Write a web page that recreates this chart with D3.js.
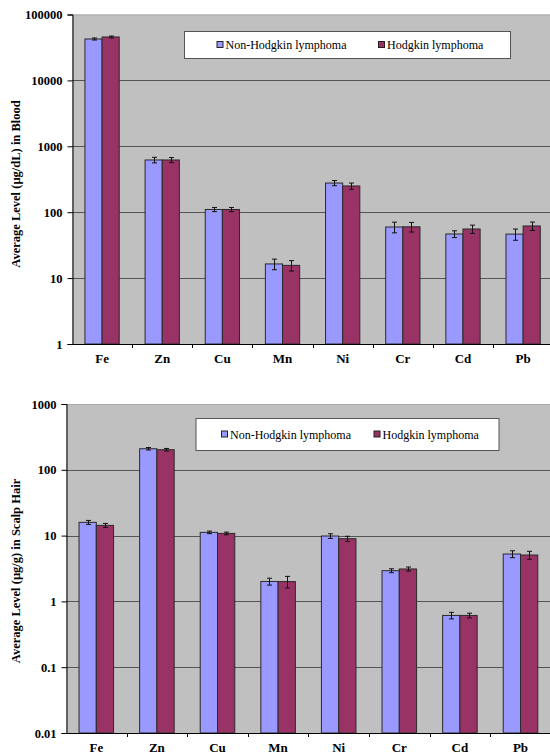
<!DOCTYPE html>
<html>
<head>
<meta charset="utf-8">
<script src="https://cdn.jsdelivr.net/npm/d3@7"></script>
<style>
  html, body { margin: 0; padding: 0; background: #fff; }
  svg { display: block; }
  text { font-family: "Liberation Serif", "Times New Roman", serif; }
</style>
</head>
<body>
<script>
// Trace element levels in lymphoma patients (log scale)
const elements = ["Fe", "Zn", "Cu", "Mn", "Ni", "Cr", "Cd", "Pb"];
const seriesNames = ["Non-Hodgkin lymphoma", "Hodgkin lymphoma"];

// Blood, µg/dL
const bloodNonHodgkin = [42500, 620, 110, 16.4, 277, 59.6, 46.7, 46.5];
const bloodHodgkin    = [45600, 620, 110, 15.6, 250, 60.0, 55.6, 61.8];
const bloodNonHodgkinErr = [1500, 60, 8, 3.0, 25, 11, 5.5, 9];
const bloodHodgkinErr    = [1500, 55, 8, 2.8, 27, 10, 8, 9];
const bloodTicks = [1, 10, 100, 1000, 10000, 100000];
const bloodTickLabels = ["1", "10", "100", "1000", "10000", "100000"];

// Scalp hair, µg/g
const hairNonHodgkin = [15.9, 209, 11.2, 2.01, 9.86, 2.93, 0.612, 5.25];
const hairHodgkin    = [14.3, 202, 10.8, 2.0, 8.97, 3.11, 0.612, 5.07];
const hairNonHodgkinErr = [1.1, 9, 0.5, 0.24, 0.8, 0.2, 0.07, 0.63];
const hairHodgkinErr    = [1.0, 9, 0.5, 0.4, 0.8, 0.22, 0.05, 0.7];
const hairTicks = [0.01, 0.1, 1, 10, 100, 1000];
const hairTickLabels = ["0.01", "0.1", "1", "10", "100", "1000"];

const colors = ["#9999FF", "#993366"];

const svg = d3.select("body").append("svg")
  .attr("width", 550).attr("height", 754);

function drawPanel(o) {
  const g = svg.append("g");
  const y = d3.scaleLog().domain(o.domain).range([o.bottom, o.top]);
  const x0 = d3.scaleBand().domain(elements).range([o.left, o.right])
    .paddingInner(0.43).paddingOuter(0.215);
  const x1 = d3.scaleBand().domain([0, 1]).range([0, x0.bandwidth()]);
  const step = x0.step();

  // plot area
  g.append("rect")
    .attr("x", o.left).attr("y", o.top)
    .attr("width", o.right - o.left).attr("height", o.bottom - o.top)
    .attr("fill", "#C0C0C0");
  g.append("line")
    .attr("x1", o.left).attr("x2", o.right)
    .attr("y1", o.top + 0.5).attr("y2", o.top + 0.5)
    .attr("stroke", "#a8a8a8");

  // gridlines
  g.selectAll("line.grid")
    .data(o.ticks.slice(1, -1))
    .join("line").attr("class", "grid")
    .attr("x1", o.left).attr("x2", o.right)
    .attr("y1", d => Math.round(y(d)) + 0.5).attr("y2", d => Math.round(y(d)) + 0.5)
    .attr("stroke", "#555").attr("stroke-width", 1);

  // bars
  const series = [o.s1, o.s2];
  const errs = [o.e1, o.e2];
  series.forEach((vals, si) => {
    g.selectAll(null).data(elements).join("rect")
      .attr("x", d => x0(d) + x1(si))
      .attr("y", (d, i) => y(vals[i]))
      .attr("width", x1.bandwidth())
      .attr("height", (d, i) => o.bottom - y(vals[i]))
      .attr("fill", colors[si])
      .attr("stroke", "#2a2a2a").attr("stroke-width", 1);
  });

  // error bars
  series.forEach((vals, si) => {
    const eg = g.append("g").attr("stroke", "#111").attr("stroke-width", 1);
    elements.forEach((d, i) => {
      const cx = Math.round(x0(d) + x1(si) + x1.bandwidth() / 2) + 0.5;
      const hi = y(vals[i] + errs[si][i]);
      const lo = y(vals[i] - errs[si][i]);
      eg.append("line").attr("x1", cx).attr("x2", cx).attr("y1", hi).attr("y2", lo);
      eg.append("line").attr("x1", cx - 2.5).attr("x2", cx + 2.5).attr("y1", hi).attr("y2", hi);
      eg.append("line").attr("x1", cx - 2.5).attr("x2", cx + 2.5).attr("y1", lo).attr("y2", lo);
    });
  });

  // y axis
  const yAxis = d3.axisLeft(y)
    .tickValues(o.ticks)
    .tickFormat((d, i) => o.tickLabels[i])
    .tickSize(5).tickPadding(5);
  const ya = g.append("g").attr("transform", `translate(${o.left + 0.5},0)`).call(yAxis);
  ya.select(".domain").attr("stroke", "#000");
  ya.selectAll(".tick line").attr("stroke", "#000");
  ya.selectAll(".tick text")
    .attr("font-family", "Liberation Serif, Times New Roman, serif")
    .attr("font-size", 12.5).attr("font-weight", "bold").attr("fill", "#000");

  // x axis
  g.append("line")
    .attr("x1", o.left).attr("x2", o.right)
    .attr("y1", o.bottom + 0.5).attr("y2", o.bottom + 0.5)
    .attr("stroke", "#000");
  g.selectAll(null).data(d3.range(1, elements.length + 1)).join("line")
    .attr("x1", i => Math.round(o.left + i * step) + 0.5)
    .attr("x2", i => Math.round(o.left + i * step) + 0.5)
    .attr("y1", o.bottom).attr("y2", o.bottom + 4)
    .attr("stroke", "#000");
  g.selectAll(null).data(elements).join("text")
    .attr("x", d => x0(d) + x0.bandwidth() / 2)
    .attr("y", o.bottom + 19)
    .attr("text-anchor", "middle")
    .attr("font-size", 13).attr("font-weight", "bold")
    .text(d => d);

  // y title
  g.append("text")
    .attr("transform", `translate(${o.titleX},${o.titleY}) rotate(-90)`)
    .attr("text-anchor", "middle")
    .attr("dominant-baseline", "middle")
    .attr("font-size", 12.5).attr("font-weight", "bold")
    .text(o.title);

  // legend
  const L = o.legend;
  g.append("rect")
    .attr("x", L.x + 0.5).attr("y", L.y + 0.5)
    .attr("width", L.w).attr("height", L.h)
    .attr("fill", "#fff").attr("stroke", "#555");
  seriesNames.forEach((name, si) => {
    const ix = L.items[si];
    g.append("rect")
      .attr("x", ix + 0.5).attr("y", L.y + L.h / 2 - 3)
      .attr("width", 6).attr("height", 6)
      .attr("fill", colors[si]).attr("stroke", "#222");
    g.append("text")
      .attr("x", ix + 9).attr("y", L.y + L.h / 2 + 4.5)
      .attr("font-size", 12)
      .text(name);
  });
}

drawPanel({
  left: 72, right: 553.2, top: 14.5, bottom: 344,
  domain: [1, 100000], ticks: bloodTicks, tickLabels: bloodTickLabels,
  s1: bloodNonHodgkin, s2: bloodHodgkin, e1: bloodNonHodgkinErr, e2: bloodHodgkinErr,
  title: "Average Level (µg/dL) in Blood", titleX: 17, titleY: 184,
  legend: { x: 184, y: 31, w: 326, h: 27, items: [216.5, 378] }
});

drawPanel({
  left: 66, right: 550.8, top: 404, bottom: 733,
  domain: [0.01, 1000], ticks: hairTicks, tickLabels: hairTickLabels,
  s1: hairNonHodgkin, s2: hairHodgkin, e1: hairNonHodgkinErr, e2: hairHodgkinErr,
  title: "Average Level (µg/g) in Scalp Hair", titleX: 17, titleY: 571,
  legend: { x: 195.5, y: 418, w: 303, h: 32, items: [221, 373.5] }
});
</script>
</body>
</html>
